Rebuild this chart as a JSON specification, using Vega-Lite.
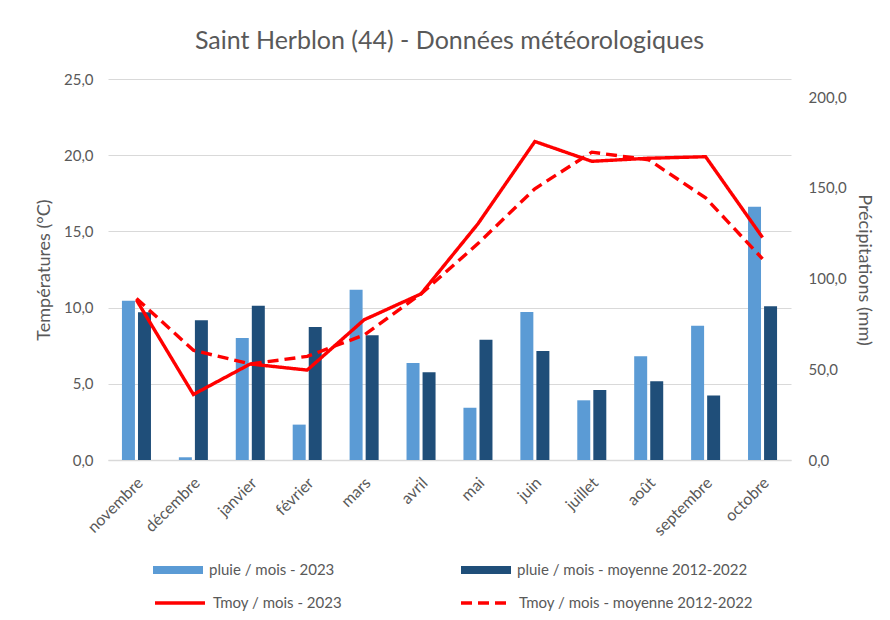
{
  "$schema": "https://vega.github.io/schema/vega-lite/v6.json",
  "width": 683,
  "height": 381,
  "autosize": "none",
  "padding": {"left": 108, "top": 79, "right": 99, "bottom": 160},
  "background": "white",
  "config": {"view": {"stroke": null}, "font": "Lato"},
  "title": {"text": "Saint Herblon (44) - Données météorologiques", "fontSize": 25, "font": "Lato", "fontWeight": "normal", "color": "#595959", "anchor": "middle", "offset": 18},
  "datasets": {
    "pluie": [
      {"mois": "novembre", "serie": "pluie / mois - 2023", "mm": 87.8},
      {"mois": "décembre", "serie": "pluie / mois - 2023", "mm": 1.5},
      {"mois": "janvier", "serie": "pluie / mois - 2023", "mm": 67.3},
      {"mois": "février", "serie": "pluie / mois - 2023", "mm": 19.5},
      {"mois": "mars", "serie": "pluie / mois - 2023", "mm": 93.9},
      {"mois": "avril", "serie": "pluie / mois - 2023", "mm": 53.5},
      {"mois": "mai", "serie": "pluie / mois - 2023", "mm": 28.8},
      {"mois": "juin", "serie": "pluie / mois - 2023", "mm": 81.6},
      {"mois": "juillet", "serie": "pluie / mois - 2023", "mm": 32.9},
      {"mois": "août", "serie": "pluie / mois - 2023", "mm": 57.2},
      {"mois": "septembre", "serie": "pluie / mois - 2023", "mm": 74.0},
      {"mois": "octobre", "serie": "pluie / mois - 2023", "mm": 139.6},
      {"mois": "novembre", "serie": "pluie / mois - moyenne 2012-2022", "mm": 81.4},
      {"mois": "décembre", "serie": "pluie / mois - moyenne 2012-2022", "mm": 77.0},
      {"mois": "janvier", "serie": "pluie / mois - moyenne 2012-2022", "mm": 85.0},
      {"mois": "février", "serie": "pluie / mois - moyenne 2012-2022", "mm": 73.3},
      {"mois": "mars", "serie": "pluie / mois - moyenne 2012-2022", "mm": 68.7},
      {"mois": "avril", "serie": "pluie / mois - moyenne 2012-2022", "mm": 48.3},
      {"mois": "mai", "serie": "pluie / mois - moyenne 2012-2022", "mm": 66.3},
      {"mois": "juin", "serie": "pluie / mois - moyenne 2012-2022", "mm": 60.1},
      {"mois": "juillet", "serie": "pluie / mois - moyenne 2012-2022", "mm": 38.6},
      {"mois": "août", "serie": "pluie / mois - moyenne 2012-2022", "mm": 43.4},
      {"mois": "septembre", "serie": "pluie / mois - moyenne 2012-2022", "mm": 35.6},
      {"mois": "octobre", "serie": "pluie / mois - moyenne 2012-2022", "mm": 84.7}
    ],
    "temp": [
      {"mois": "novembre", "serie": "Tmoy  / mois - 2023", "t": 10.5},
      {"mois": "décembre", "serie": "Tmoy  / mois - 2023", "t": 4.3},
      {"mois": "janvier", "serie": "Tmoy  / mois - 2023", "t": 6.3},
      {"mois": "février", "serie": "Tmoy  / mois - 2023", "t": 5.9},
      {"mois": "mars", "serie": "Tmoy  / mois - 2023", "t": 9.2},
      {"mois": "avril", "serie": "Tmoy  / mois - 2023", "t": 10.9},
      {"mois": "mai", "serie": "Tmoy  / mois - 2023", "t": 15.5},
      {"mois": "juin", "serie": "Tmoy  / mois - 2023", "t": 20.9},
      {"mois": "juillet", "serie": "Tmoy  / mois - 2023", "t": 19.6},
      {"mois": "août", "serie": "Tmoy  / mois - 2023", "t": 19.8},
      {"mois": "septembre", "serie": "Tmoy  / mois - 2023", "t": 19.9},
      {"mois": "octobre", "serie": "Tmoy  / mois - 2023", "t": 14.6},
      {"mois": "novembre", "serie": "Tmoy / mois - moyenne 2012-2022", "t": 10.6},
      {"mois": "décembre", "serie": "Tmoy / mois - moyenne 2012-2022", "t": 7.2},
      {"mois": "janvier", "serie": "Tmoy / mois - moyenne 2012-2022", "t": 6.3},
      {"mois": "février", "serie": "Tmoy / mois - moyenne 2012-2022", "t": 6.8},
      {"mois": "mars", "serie": "Tmoy / mois - moyenne 2012-2022", "t": 8.2},
      {"mois": "avril", "serie": "Tmoy / mois - moyenne 2012-2022", "t": 10.9},
      {"mois": "mai", "serie": "Tmoy / mois - moyenne 2012-2022", "t": 14.2},
      {"mois": "juin", "serie": "Tmoy / mois - moyenne 2012-2022", "t": 17.8},
      {"mois": "juillet", "serie": "Tmoy / mois - moyenne 2012-2022", "t": 20.2},
      {"mois": "août", "serie": "Tmoy / mois - moyenne 2012-2022", "t": 19.7},
      {"mois": "septembre", "serie": "Tmoy / mois - moyenne 2012-2022", "t": 17.2},
      {"mois": "octobre", "serie": "Tmoy / mois - moyenne 2012-2022", "t": 13.2}
    ]
  },
  "layer": [
    {
      "data": {"name": "pluie"},
      "mark": {"type": "bar"},
      "encoding": {
        "x": {
          "field": "mois", "type": "nominal",
          "sort": ["novembre", "décembre", "janvier", "février", "mars", "avril", "mai", "juin", "juillet", "août", "septembre", "octobre"],
          "scale": {"paddingInner": 0.49, "paddingOuter": 0.245},
          "axis": {"title": null, "labelAngle": -45, "labelAlign": "right", "labelBaseline": "middle", "labelPadding": 20, "labelOffset": 4, "labelFontSize": 16, "labelColor": "#595959", "ticks": false, "domain": true, "domainColor": "#D9D9D9", "domainWidth": 1.5}
        },
        "xOffset": {"field": "serie", "type": "nominal", "sort": ["pluie / mois - 2023", "pluie / mois - moyenne 2012-2022"], "scale": {"paddingInner": 0.19, "paddingOuter": 0}},
        "y": {
          "field": "mm", "type": "quantitative",
          "scale": {"domain": [0, 210], "nice": false},
          "axis": {"orient": "right", "title": "Précipitations (mm)", "values": [0, 50, 100, 150, 200], "labelExpr": "replace(format(datum.value, '.1f'), '.', ',')", "grid": false, "domain": false, "ticks": false, "labelPadding": 17, "labelFontSize": 15, "labelColor": "#595959", "titleFontSize": 18, "titleFontWeight": "normal", "titleColor": "#595959", "titlePadding": 8}
        },
        "fill": {
          "field": "serie", "type": "nominal",
          "scale": {"domain": ["pluie / mois - 2023", "pluie / mois - moyenne 2012-2022"], "range": ["#5B9BD5", "#1F4E79"]},
          "legend": {
            "title": null, "orient": "none", "legendX": 45, "legendY": 466, "direction": "horizontal", "columns": 2, "columnPadding": 126,
            "symbolType": "M-1,-0.16H1V0.16H-1Z", "symbolSize": 2500, "symbolStrokeWidth": 0, "labelOffset": 6, "labelFontSize": 15, "labelColor": "#595959", "labelLimit": 400
          }
        }
      }
    },
    {
      "data": {"name": "temp"},
      "mark": {"type": "line", "strokeWidth": 3.4},
      "encoding": {
        "x": {"field": "mois", "type": "nominal", "sort": ["novembre", "décembre", "janvier", "février", "mars", "avril", "mai", "juin", "juillet", "août", "septembre", "octobre"]},
        "y": {
          "field": "t", "type": "quantitative",
          "scale": {"domain": [0, 25], "nice": false},
          "axis": {"orient": "left", "title": "Températures (°C)", "values": [0, 5, 10, 15, 20, 25], "labelExpr": "replace(format(datum.value, '.1f'), '.', ',')", "grid": true, "gridColor": "#D9D9D9", "gridWidth": 1.2, "domain": false, "ticks": false, "labelPadding": 15, "labelFontSize": 15, "labelColor": "#595959", "titleFontSize": 18, "titleFontWeight": "normal", "titleColor": "#595959", "titlePadding": 10}
        },
        "stroke": {
          "field": "serie", "type": "nominal",
          "scale": {"domain": ["Tmoy  / mois - 2023", "Tmoy / mois - moyenne 2012-2022"], "range": ["#FF0000", "#FF0000"]},
          "legend": {
            "title": null, "orient": "none", "legendX": 45, "legendY": 497, "direction": "horizontal", "columns": 2, "columnPadding": 108,
            "symbolType": "stroke", "symbolSize": 2500, "symbolStrokeWidth": 3.5, "labelOffset": 6, "labelFontSize": 15, "labelColor": "#595959", "labelLimit": 400
          }
        },
        "strokeDash": {
          "field": "serie", "type": "nominal",
          "scale": {"domain": ["Tmoy  / mois - 2023", "Tmoy / mois - moyenne 2012-2022"], "range": [[1, 0], [11, 6]]},
          "legend": {
            "title": null, "orient": "none", "legendX": 45, "legendY": 497, "direction": "horizontal", "columns": 2, "columnPadding": 108,
            "symbolType": "stroke", "symbolSize": 2500, "symbolStrokeWidth": 3.5, "labelOffset": 6, "labelFontSize": 15, "labelColor": "#595959", "labelLimit": 400
          }
        }
      }
    }
  ],
  "resolve": {"scale": {"y": "independent"}}
}
